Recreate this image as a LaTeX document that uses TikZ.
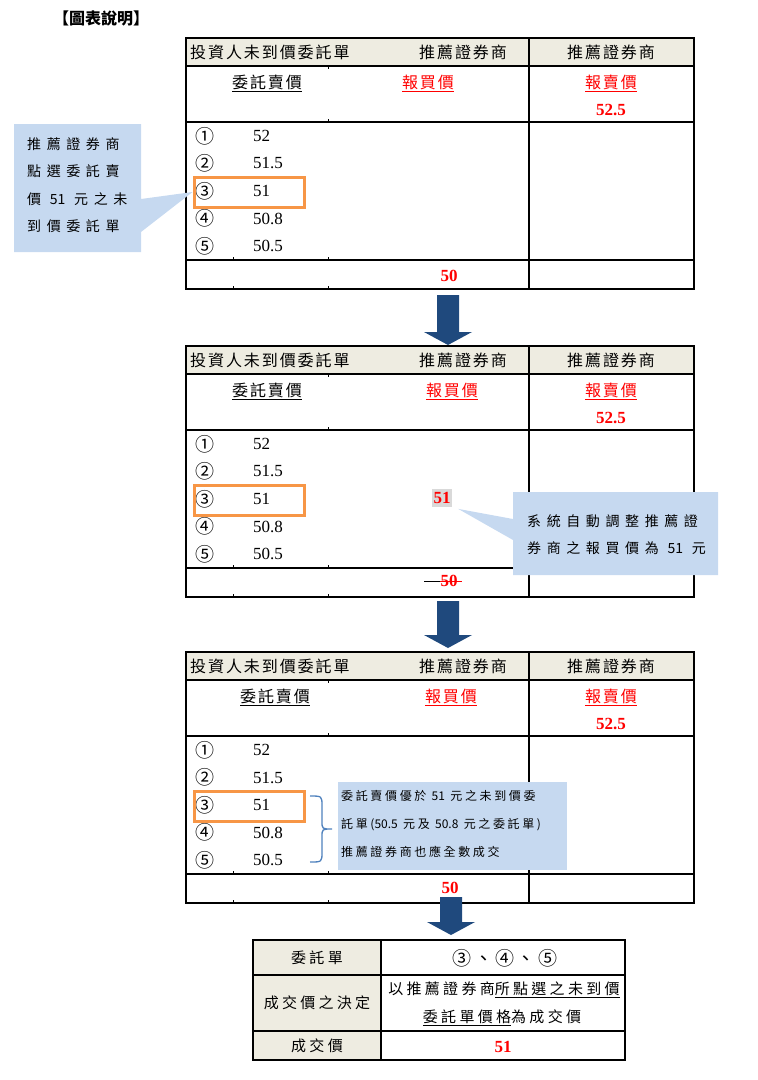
\documentclass[tikz,border=0pt]{standalone}
\usepackage{fontspec}
\setmainfont{Liberation Serif}
\newfontfamily\cjk{Noto Sans CJK TC}
\newfontfamily\cjkhead[LetterSpace=12]{Noto Sans CJK TC}
\newfontfamily\cjktip[LetterSpace=40]{Noto Sans CJK TC}
\newfontfamily\cjknote[LetterSpace=22]{Noto Sans CJK TC}
\newfontfamily\cjkcirc[LetterSpace=12]{Noto Sans CJK TC}
\usetikzlibrary{calc}

\definecolor{hdrbeige}{RGB}{238,236,225}
\definecolor{tipblue}{RGB}{198,217,240}
\definecolor{pickorange}{RGB}{247,150,70}
\definecolor{arrowblue}{RGB}{31,73,125}
\definecolor{braceblue}{RGB}{79,129,189}
\definecolor{pricered}{RGB}{255,0,0}

\tikzset{
  gridline/.style={line width=1.1pt, black},
  headtxt/.style={font=\cjkhead\fontsize{16}{18}\selectfont, inner sep=0pt},
  circtxt/.style={font=\cjk\fontsize{19}{21}\selectfont, inner sep=0pt},
  numtxt/.style={font=\fontsize{17}{19}\selectfont, anchor=west, inner sep=0pt},
  rednum/.style={font=\bfseries\fontsize{17}{19}\selectfont, text=pricered, inner sep=0pt},
  tiptxt/.style={font=\cjktip\fontsize{14}{27.5}\selectfont, align=left, inner sep=0pt, anchor=north west},
  notetxt/.style={font=\cjknote\fontsize{12}{28}\selectfont, align=left, inner sep=0pt, anchor=north west},
  pickbox/.style={draw=pickorange, line width=3pt, minimum width=110, minimum height=30, inner sep=0pt},
  resulttxt/.style={font=\cjknote\fontsize{15}{17}\selectfont, inner sep=0pt},
}

% one board: #1 top, #2 name, #3 x of 委託賣價, #4 x of 報買價
\newcommand\drawboard[4]{%
  \fill[hdrbeige] (186,#1) rectangle (694,#1+28);
  \draw[gridline] (186,#1) rectangle (694,#1+251);
  \draw[gridline] (186,#1+28) -- (694,#1+28)
                  (186,#1+84) -- (694,#1+84)
                  (186,#1+222) -- (694,#1+222)
                  (529,#1) -- (529,#1+251);
  % leftover cell marks
  \foreach \tx/\ty/\td in {233/222/-3, 233/251/-3, 328/28/3, 328/84/-3, 328/222/-3, 328/251/-3}
    \draw[black, line width=0.6pt] (\tx,#1+\ty) -- (\tx,#1+\ty+\td);
  \node[headtxt, anchor=west] (#2-inv) at (190,#1+14) {投資人未到價委託單};
  \node[headtxt] (#2-mm) at (463,#1+14) {推薦證券商};
  \node[headtxt] (#2-mm2) at (611,#1+14) {推薦證券商};
  \node[headtxt] (#2-ask) at (#3,#1+45) {\underline{委託賣價}};
  \node[headtxt, text=pricered] (#2-bid) at (#4,#1+45) {\underline{報買價}};
  \node[headtxt, text=pricered] (#2-sell) at (611,#1+45) {\underline{報賣價}};
  \node[rednum] (#2-sellp) at (611,#1+72) {52.5};
  \foreach \n/\c/\v in {1/①/52, 2/②/51.5, 3/③/51, 4/④/50.8, 5/⑤/50.5} {
    \node[circtxt] (#2-c\n) at (205,#1+98+27.5*\n-27.5) {\c};
    \node[numtxt] (#2-v\n) at (253,#1+98+27.5*\n-27.5) {\v};
  }
  \node[pickbox] (#2-pick) at (249,#1+154) {};
}

\newcommand\downblock[2]{%
  \fill[arrowblue] ($(#1)+(-11,0)$) -- ($(#2)+(-11,-13)$) -- ($(#2)+(-24,-13)$)
    -- (#2) -- ($(#2)+(24,-13)$) -- ($(#2)+(11,-13)$) -- ($(#1)+(11,0)$) -- cycle;
}

\begin{document}
\begin{tikzpicture}[x=1pt, y=-1pt]
  \useasboundingbox (0,0) rectangle (758,1080);

  % title
  \node[font=\cjk\bfseries\fontsize{16}{18}\selectfont, inner sep=0pt] (title) at (101,18) {【圖表說明】};

  % board 1
  \drawboard{38}{b1}{267}{428}
  \node[rednum] (b1-bidp) at (449,276) {50};

  % callout 1
  \fill[tipblue] (14,124) -- (141,124) -- (141,199) -- (b1-pick.west) -- (141,232)
    -- (141,252) -- (14,252) -- cycle;
  \node[tiptxt] (tip1) at (27,137) {推薦證券商\\點選委託賣\\價 {\cjk 51} 元之未\\到價委託單};

  % arrow 1
  \coordinate (a1s) at (448,295);
  \coordinate (a1e) at (448,345);
  \downblock{a1s}{a1e}

  % board 2
  \drawboard{346}{b2}{267}{452}
  \node[rednum, fill=gray!30, inner xsep=1.5pt, inner ysep=3pt] (b2-new) at (442,498) {51};
  \node[rednum] (b2-old) at (449,581) {50};
  \draw[black, line width=1pt] ([xshift=-16pt]b2-old.west) -- (b2-old.west);
  \draw[pricered, line width=1pt] (b2-old.west) -- ([xshift=4pt]b2-old.east);

  % callout 2
  \fill[tipblue] ([xshift=6pt, yshift=-2pt]b2-new.south east) -- (513,519) -- (513,492)
    -- (718,492) -- (718,575) -- (513,575) -- (513,540) -- cycle;
  \node[tiptxt] (tip2) at (527,514) {系統自動調整推薦證\\券商之報買價為 {\cjk 51} 元};

  % arrow 2
  \coordinate (a2s) at (448,601);
  \coordinate (a2e) at (448,648);
  \downblock{a2s}{a2e}

  % board 3
  \drawboard{652}{b3}{275}{451}
  \node[rednum] (b3-bidp) at (450,888) {50};
  \draw[braceblue, line width=1.3pt] (310,796) .. controls (322,796) .. (322,806) -- (322,821)
    .. controls (322,829) .. (332,829) coordinate (brc) .. controls (322,829) .. (322,837)
    -- (322,852) .. controls (322,862) .. (310,862);
  \fill[tipblue] (338,782) rectangle (567,870);
  \node[notetxt] (tip3) at (341,790) {委託賣價優於 {\cjk 51} 元之未到價委\\託單({\cjk 50.5} 元及 {\cjk 50.8} 元之委託單)\\推薦證券商也應全數成交};

  % arrow 3
  \coordinate (a3s) at (451,897);
  \coordinate (a3e) at (451,935);
  \downblock{a3s}{a3e}

  % result table
  \fill[hdrbeige] (253,940) rectangle (381,1060);
  \draw[gridline] (253,940) rectangle (625,1060);
  \draw[gridline] (253,975) -- (625,975) (253,1031) -- (625,1031) (381,940) -- (381,1060);
  \node[resulttxt] (r-ord) at (317,958) {委託單};
  \node[font=\cjkcirc\fontsize{19}{21}\selectfont, inner sep=0pt] (r-ordv) at (505,958) {③、④、⑤};
  \node[resulttxt] (r-rule) at (317,1003) {成交價之決定};
  \node[resulttxt] (r-rulev1) at (504,990) {以推薦證券商\underline{所點選之未到價}};
  \node[resulttxt] (r-rulev2) at (502,1018) {\underline{委託單價格}為成交價};
  \node[resulttxt] (r-px) at (317,1046) {成交價};
  \node[rednum] (r-pxv) at (503,1047) {51};
\end{tikzpicture}
\end{document}
